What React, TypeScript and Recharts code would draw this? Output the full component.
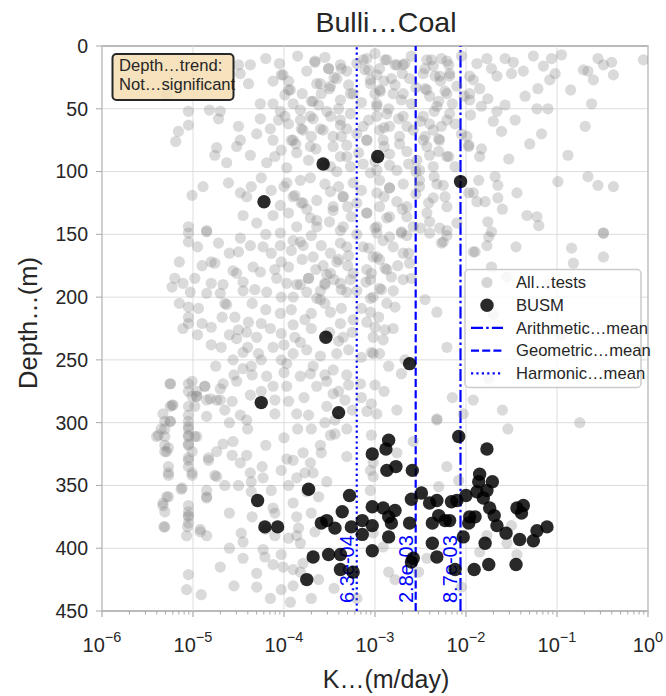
import React from "react";
import { ScatterChart, Scatter, XAxis, YAxis, CartesianGrid, ReferenceLine, ReferenceArea } from "recharts";

const FONT = '"Liberation Sans", Arial, Helvetica, sans-serif';
const INK = "#262626";
const EDGE = "#a9a9a9";
const GRID = "#dddddd";

// [log10 K (m/day), depth (m)] for every test
const allShallowLeft: [number, number][] = [
  [-5.29, 39], [-4.5, 15], [-4.37, 15], [-4.48, 22], [-4.39, 30], [-4.12, 28], [-4.03, 23], [-3.93, 35],
  [-3.99, 39], [-4.26, 46], [-4.12, 46], [-3.66, 13], [-3.51, 18], [-3.38, 15], [-3.42, 26], [-3.6, 30],
  [-3.68, 44], [-3.5, 34], [-3.29, 31], [-3.24, 38], [-3.09, 10], [-3.11, 19], [-3.05, 27], [-2.98, 46],
  [-5.05, 52], [-5.16, 68], [-5.19, 76], [-5.05, 63], [-4.82, 51], [-4.7, 52], [-4.72, 58], [-4.5, 64],
  [-4.48, 75], [-4.52, 80], [-4.74, 81], [-4.76, 87], [-4.63, 93], [-4.37, 87], [-4.26, 58], [-4.15, 66],
  [-4.04, 52], [-4.06, 59], [-4.12, 75], [-4.03, 83], [-3.92, 75], [-3.82, 51], [-3.81, 66], [-3.71, 56],
  [-3.7, 72], [-3.6, 66], [-3.49, 56], [-3.46, 72], [-3.38, 63], [-3.31, 79], [-3.27, 54], [-3.13, 64],
  [-3.09, 75], [-3.86, 85], [-3.73, 91], [-3.97, 97], [-4.19, 93], [-3.38, 88], [-3.27, 96], [-3.05, 101],
  [-4.89, 112], [-5.01, 119], [-4.61, 109], [-4.48, 117], [-4.36, 112], [-4.41, 120], [-4.14, 115], [-4.04, 127],
  [-4.12, 135], [-4.45, 135], [-4.3, 141], [-5.05, 144], [-4.85, 147], [-3.82, 107], [-3.71, 105], [-3.79, 125],
  [-3.64, 123], [-3.49, 116], [-3.46, 131], [-3.35, 120], [-3.24, 109], [-3.2, 125], [-3.09, 133], [-3.64, 139],
  [-3.86, 144], [-4.04, 149], [-3.38, 147], [-2.98, 117],
];

const allShallowRight: [number, number][] = [
  [-2.89, 11], [-2.76, 15], [-2.67, 14], [-2.98, 23], [-2.78, 31], [-2.94, 36], [-2.69, 38], [-2.62, 26],
  [-2.45, 18], [-2.38, 11], [-2.27, 10], [-2.19, 15], [-2.34, 24], [-2.18, 24], [-2.45, 34], [-2.23, 36],
  [-2.3, 44], [-2.1, 32], [-1.96, 24], [-1.88, 14], [-1.77, 10], [-1.72, 18], [-1.57, 10], [-1.48, 13],
  [-1.5, 22], [-1.66, 24], [-1.37, 20], [-1.26, 8], [-1.06, 10], [-1.15, 16], [-1.08, 27], [-1.02, 22],
  [-1.21, 34], [-0.95, 7], [-0.71, 19], [-0.66, 20], [-0.55, 10], [-0.49, 15], [-0.4, 13], [-0.38, 23],
  [-0.05, 11], [-0.6, 27], [-0.62, 46], [-1.76, 42], [-1.57, 47], [-1.96, 43], [-1.85, 34], [-1.83, 48],
  [-1.66, 52], [-1.46, 59], [-1.22, 50], [-1.1, 50], [-2.98, 56], [-2.84, 64], [-2.69, 56], [-2.73, 72],
  [-2.91, 75], [-2.58, 67], [-2.47, 75], [-2.4, 62], [-2.27, 64], [-2.18, 54], [-2.3, 74], [-2.19, 88],
  [-2.4, 87], [-2.54, 91], [-2.84, 95], [-2.98, 99], [-1.97, 79], [-1.85, 88], [-1.83, 82], [-1.61, 68],
  [-1.53, 90], [-1.3, 78], [-1.17, 70], [-0.88, 87], [-0.69, 64], [-1.86, 107], [-1.68, 104], [-1.65, 111],
  [-1.97, 117], [-1.88, 124], [-1.79, 124], [-1.65, 121], [-1.44, 117], [-1.33, 135], [-1.22, 136], [-1.2, 143],
  [-1.76, 140], [-1.72, 148], [-0.99, 108], [-0.66, 104], [-0.55, 111], [-0.38, 112], [-0.49, 149], [-2.95, 107],
  [-2.84, 113], [-2.69, 110], [-2.51, 112], [-2.32, 110], [-2.23, 120], [-2.41, 125], [-2.65, 128], [-2.84, 136],
  [-2.98, 144], [-2.58, 144], [-2.29, 145], [-2.1, 141], [-2.71, 149],
];

const allCore: [number, number][] = [
  [-3.66, 12], [-3.51, 18], [-3.37, 18], [-3.31, 20], [-3.64, 30], [-3.49, 32], [-3.59, 38], [-3.7, 44],
  [-3.9, 46], [-4.01, 23], [-3.95, 35], [-3.38, 43], [-3.27, 38], [-3.13, 11], [-3.07, 19], [-2.95, 18],
  [-2.87, 11], [-2.78, 15], [-2.69, 15], [-2.82, 26], [-2.7, 22], [-3.05, 30], [-2.95, 35], [-2.8, 38],
  [-2.71, 43], [-2.98, 48], [-2.43, 11], [-2.36, 16], [-2.21, 12], [-2.47, 22], [-2.29, 24], [-2.18, 22],
  [-2.43, 35], [-2.21, 38], [-2.32, 48], [-1.92, 27], [-1.96, 38], [-3.82, 59], [-3.68, 58], [-3.53, 52],
  [-3.38, 59], [-3.31, 66], [-3.37, 72], [-3.57, 67], [-3.79, 67], [-3.9, 75], [-3.99, 56], [-3.71, 80],
  [-3.46, 80], [-3.49, 96], [-3.31, 88], [-3.07, 59], [-2.95, 67], [-2.87, 54], [-2.74, 58], [-2.65, 64],
  [-2.73, 78], [-2.84, 86], [-2.63, 94], [-3.09, 75], [-3.13, 94], [-2.47, 56], [-2.36, 67], [-2.21, 59],
  [-2.29, 75], [-2.43, 80], [-2.21, 88], [-2.36, 96], [-1.99, 72], [-1.97, 80], [-2.51, 99], [-2.76, 99],
  [-3.97, 109], [-3.88, 119], [-3.81, 125], [-3.95, 133], [-3.71, 137], [-3.64, 144], [-3.82, 156], [-3.92, 163],
  [-3.68, 168], [-3.57, 175], [-3.4, 170], [-3.31, 160], [-3.49, 181], [-3.73, 185], [-3.86, 190], [-3.55, 190],
  [-3.37, 194], [-3.27, 186], [-3.64, 201], [-3.4, 112], [-3.35, 120], [-3.46, 128], [-3.26, 136], [-3.35, 144],
  [-3.09, 133], [-3.07, 161], [-3.02, 168], [-2.91, 155], [-2.87, 137], [-2.95, 128], [-2.84, 113], [-2.76, 124],
  [-2.65, 136], [-2.71, 148], [-2.51, 107], [-2.36, 121], [-2.25, 111], [-2.21, 128], [-2.43, 133], [-2.21, 147],
  [-2.25, 156], [-2.63, 165], [-2.87, 178], [-3.05, 186], [-2.93, 194], [-1.92, 117], [-1.9, 164],
];

const allCoreFill: [number, number][] = [
  [-4.2, 10], [-4.05, 14], [-3.85, 8], [-3.75, 20], [-3.55, 9], [-3.45, 25], [-3.2, 14], [-3.0, 6],
  [-2.9, 28], [-2.6, 8], [-2.55, 33], [-2.4, 40], [-2.28, 28], [-2.15, 46], [-2.05, 8], [-2.02, 40],
  [-1.95, 55], [-3.95, 28], [-3.8, 38], [-3.62, 47], [-3.4, 50], [-3.15, 45], [-3.0, 38], [-2.85, 50],
  [-2.6, 46], [-2.5, 60], [-2.35, 52], [-2.12, 62], [-2.05, 70], [-4.3, 70], [-4.1, 88], [-3.95, 62],
  [-3.87, 78], [-3.65, 82], [-3.55, 95], [-3.42, 100], [-3.2, 70], [-3.18, 85], [-3.0, 92], [-2.9, 80],
  [-2.9, 65], [-2.65, 84], [-2.55, 100], [-2.45, 72], [-2.35, 104], [-2.12, 96], [-2.3, 84], [-4.25, 105],
  [-4.0, 112], [-3.9, 120], [-3.75, 130], [-3.55, 110], [-3.5, 140], [-3.3, 128], [-3.15, 115], [-3.2, 150],
  [-3.0, 145], [-2.9, 120], [-2.8, 160], [-2.7, 130], [-2.55, 118], [-2.5, 145], [-2.4, 140], [-4.2, 150],
  [-4.1, 178], [-3.95, 176], [-3.9, 200], [-3.8, 170], [-3.65, 178], [-3.6, 195], [-3.45, 186], [-3.3, 175],
  [-3.2, 195], [-3.1, 188], [-2.95, 170], [-2.8, 195], [-2.75, 175], [-2.6, 185], [-4.35, 205], [-4.2, 210],
  [-4.15, 225], [-4.0, 238], [-3.88, 232], [-3.7, 225], [-3.55, 205], [-3.5, 228], [-3.4, 235], [-3.25, 228],
  [-3.15, 248], [-3.05, 212], [-2.95, 245], [-2.85, 255], [-4.35, 262], [-4.25, 275], [-4.1, 282], [-4.0, 260],
  [-3.9, 245], [-3.78, 280], [-3.68, 255], [-3.55, 262], [-3.4, 275], [-3.25, 290], [-3.15, 280], [-3.0, 270],
  [-2.9, 275], [-3.55, 300], [-3.7, 305], [-4.95, 160], [-4.6, 165], [-4.9, 175], [-4.65, 205], [-4.95, 230],
  [-4.6, 230], [-4.75, 255], [-4.55, 262], [-4.85, 295], [-4.65, 290], [-5.15, 205], [-4.45, 195], [-4.4, 240],
  [-4.25, 250], [-1.7, 60], [-1.35, 40], [-0.85, 35], [-1.6, 130], [-1.45, 160], [-1.1, 190], [-0.95, 230],
  [-1.3, 245], [-1.75, 265], [-2.15, 280], [-1.6, 290], [-0.75, 300],
];

const allMiddle: [number, number][] = [
  [-5.05, 149], [-5.05, 156], [-4.85, 148], [-4.72, 157], [-4.48, 153], [-4.37, 159], [-4.5, 164], [-4.23, 160],
  [-4.14, 165], [-4.03, 172], [-4.04, 159], [-3.9, 155], [-3.79, 159], [-3.7, 151], [-3.59, 159], [-3.49, 165],
  [-3.42, 172], [-3.29, 167], [-3.38, 157], [-3.13, 160], [-3.09, 178], [-5.15, 172], [-4.8, 172], [-4.76, 173],
  [-4.56, 179], [-4.34, 176], [-4.52, 181], [-4.26, 180], [-5.2, 185], [-5.23, 192], [-5.11, 189], [-4.98, 185],
  [-5.03, 196], [-4.8, 189], [-4.67, 190], [-4.85, 197], [-4.7, 197], [-4.45, 188], [-4.32, 194], [-4.19, 196],
  [-4.08, 185], [-4.03, 200], [-3.97, 189], [-3.82, 190], [-3.73, 185], [-3.75, 196], [-3.53, 182], [-3.55, 189],
  [-3.38, 189], [-3.31, 196], [-3.24, 181], [-3.05, 201], [-5.05, 208], [-5.05, 216], [-5.05, 221], [-5.11, 225],
  [-4.94, 209], [-4.9, 221], [-4.8, 224], [-4.68, 216], [-4.8, 238], [-4.69, 240], [-4.63, 206], [-4.54, 216],
  [-4.5, 226], [-4.52, 233], [-4.39, 220], [-4.41, 228], [-4.25, 221], [-4.3, 232], [-4.45, 244], [-4.28, 245],
  [-4.12, 240], [-4.03, 229], [-4.04, 213], [-3.92, 210], [-3.9, 222], [-4.03, 250], [-3.82, 236], [-3.77, 218],
  [-3.7, 213], [-3.75, 242], [-3.6, 202], [-3.49, 212], [-3.38, 221], [-3.35, 232], [-3.37, 209], [-3.29, 242],
  [-3.42, 245], [-3.24, 218], [-3.09, 220], [-3.0, 224], [-3.6, 247], [-3.15, 209], [-5.25, 269], [-5.05, 269],
  [-5.01, 279], [-5.05, 287], [-5.33, 293], [-5.23, 286], [-4.96, 279], [-4.87, 271], [-4.7, 273], [-4.67, 269],
  [-4.81, 281], [-4.7, 282], [-4.57, 283], [-4.52, 267], [-4.37, 278], [-4.48, 294], [-4.41, 298], [-4.56, 250],
  [-4.45, 257], [-4.36, 255], [-4.19, 263], [-4.12, 271], [-3.97, 271], [-3.95, 283], [-4.1, 293], [-3.86, 293],
  [-3.73, 294], [-3.97, 253], [-3.82, 263], [-3.71, 261], [-3.64, 271], [-3.53, 267], [-3.46, 258], [-3.31, 262],
  [-3.29, 270], [-3.16, 269], [-3.46, 277], [-3.33, 282], [-3.53, 287], [-3.44, 298], [-3.09, 291], [-3.02, 245],
  [-2.98, 149], [-2.84, 152], [-2.65, 151], [-2.4, 149], [-2.21, 151], [-2.27, 157], [-1.75, 152], [-1.77, 159],
  [-1.92, 164], [-0.84, 161], [-0.82, 173], [-0.49, 168], [-0.49, 149], [-2.98, 168], [-2.89, 177], [-2.69, 165],
  [-2.62, 173], [-3.04, 181], [-2.95, 193], [-2.82, 184], [-2.69, 186], [-3.02, 200], [-2.87, 205], [-2.78, 208],
  [-2.45, 202], [-2.32, 212], [-2.96, 216], [-2.89, 226], [-2.8, 225], [-3.02, 232], [-2.91, 234], [-3.04, 244],
  [-2.21, 240], [-1.7, 214], [-1.72, 176], [-1.55, 184], [-1.77, 188], [-1.92, 282], [-2.03, 293], [-2.32, 297],
  [-2.76, 290], [-3.04, 285], [-2.98, 293], [-2.71, 261], [-2.67, 250], [-5.25, 269], [-5.01, 267], [-5.05, 275],
  [-4.96, 275], [-4.96, 279], [-4.87, 271], [-4.85, 282], [-4.74, 282], [-5.22, 286], [-5.25, 287], [-4.98, 287],
  [-5.05, 294], [-5.31, 299], [-5.25, 299], [-5.05, 299],
];

const allDeep: [number, number][] = [
  [-5.38, 310], [-5.31, 305], [-5.25, 299], [-5.05, 303], [-5.05, 310], [-5.05, 318], [-4.98, 311], [-5.31, 318],
  [-5.29, 323], [-5.27, 335], [-5.27, 340], [-5.05, 335], [-5.05, 330], [-5.01, 340], [-5.12, 352], [-5.29, 359],
  [-5.33, 364], [-5.31, 371], [-5.32, 383], [-5.05, 366], [-5.05, 374], [-5.06, 383], [-5.07, 390], [-4.92, 387],
  [-4.85, 390], [-4.85, 354], [-4.85, 360], [-5.05, 421], [-5.07, 433], [-4.91, 437], [-4.83, 330], [-4.76, 342],
  [-4.67, 317], [-4.56, 315], [-4.57, 326], [-4.48, 332], [-4.74, 323], [-4.41, 326], [-4.5, 350], [-4.37, 340],
  [-4.36, 347], [-4.36, 355], [-4.47, 388], [-4.45, 395], [-4.45, 408], [-4.23, 344], [-4.24, 335], [-4.14, 354],
  [-4.12, 368], [-4.23, 401], [-4.21, 407], [-4.12, 413], [-4.3, 431], [-4.03, 433], [-3.93, 443], [-4.03, 338],
  [-3.9, 330], [-3.97, 329], [-3.86, 344], [-3.79, 324], [-3.77, 340], [-3.68, 340], [-3.71, 332], [-3.6, 318],
  [-3.59, 324], [-3.49, 310], [-3.44, 309], [-3.31, 327], [-3.31, 305], [-3.53, 347], [-3.62, 359], [-3.9, 364],
  [-3.86, 375], [-3.84, 384], [-3.95, 392], [-3.86, 390], [-3.82, 396], [-4.1, 390], [-4.03, 405], [-4.01, 415],
  [-3.9, 417], [-3.79, 412], [-3.82, 419], [-3.62, 425], [-3.05, 354], [-3.05, 338], [-3.04, 310], [-3.66, 387],
  [-1.54, 305], [-2.32, 298], [-2.58, 315], [-2.76, 324], [-3.02, 332], [-3.02, 343], [-2.21, 335], [-2.3, 351],
  [-2.08, 346], [-1.5, 382], [-1.44, 405], [-1.55, 396], [-1.85, 403], [-2.43, 408], [-2.85, 419], [-2.78, 425],
  [-2.52, 419], [-3.02, 388], [-2.91, 399], [-1.77, 390], [-2.05, 431], [-5.35, 305], [-5.05, 305], [-5.4, 311],
  [-5.31, 311], [-5.05, 311], [-4.96, 311], [-5.27, 320], [-5.31, 323], [-5.05, 317], [-5.01, 323], [-5.05, 328],
  [-4.83, 328], [-5.27, 342], [-5.01, 342], [-4.74, 343], [-5.13, 353], [-4.85, 359], [-5.27, 359], [-5.33, 366],
  [-5.05, 371], [-5.05, 375], [-5.05, 380], [-5.31, 383], [-4.92, 385], [-4.6, 300], [-4.4, 305], [-4.2, 318],
  [-4.0, 312], [-3.85, 305], [-4.65, 350], [-4.6, 372], [-4.35, 375], [-4.2, 385], [-4.1, 372], [-3.95, 350],
  [-3.75, 355], [-3.7, 372], [-4.6, 400], [-4.3, 420], [-4.15, 440], [-3.9, 430], [-3.7, 440], [-3.45, 432],
  [-3.2, 440], [-4.7, 415], [-4.55, 430],
];

// BUSM tests
const busm: [number, number][] = [
  [-3.57, 94], [-2.97, 88], [-2.06, 108], [-4.22, 124], [-3.54, 232], [-2.62, 253], [-4.25, 284], [-3.4, 292],
  [-2.08, 311], [-1.77, 321], [-2.85, 314], [-2.88, 321], [-3.03, 325], [-3.73, 353], [-3.28, 358], [-4.29, 362],
  [-3.03, 367], [-3.36, 371], [-3.53, 378], [-3.59, 380], [-3.44, 384], [-3.26, 383], [-3.14, 378], [-3.14, 389],
  [-3.03, 382], [-4.21, 383], [-4.07, 383], [-3.68, 407], [-3.51, 405], [-3.38, 405], [-3.03, 402], [-3.38, 417],
  [-3.24, 419], [-3.75, 425], [-2.87, 338], [-2.77, 335], [-2.59, 338], [-1.85, 341], [-1.86, 347], [-1.71, 347],
  [-1.77, 354], [-2.49, 356], [-2.6, 361], [-2.32, 362], [-2.4, 364], [-2.16, 363], [-2.1, 362], [-2.0, 358],
  [-1.88, 355], [-1.81, 360], [-1.74, 368], [-1.69, 374], [-1.66, 382], [-1.56, 388], [-1.44, 368], [-1.37, 366],
  [-1.39, 372], [-1.22, 386], [-1.11, 383], [-1.26, 394], [-1.41, 393], [-1.79, 396], [-1.75, 413], [-1.45, 413],
  [-1.91, 417], [-2.03, 391], [-1.96, 375], [-1.9, 375], [-1.97, 380], [-2.18, 378], [-2.23, 378], [-2.3, 374],
  [-2.37, 380], [-2.37, 396], [-2.32, 407], [-2.62, 380], [-2.85, 375], [-2.82, 380], [-2.91, 368], [-2.78, 370],
  [-2.85, 391], [-2.6, 411], [-2.58, 408], [-2.12, 417],
];

// mean K lines: arithmetic, geometric, harmonic
const meanNames = ["Arithmetic…mean", "Geometric…mean", "Harmonic…mean"];
const meanValues = [8.7e-3, 2.8e-3, 6.3e-4];
const meanLabels = ["8.7e-03", "2.8e-03", "6.3e-04"];
const meanDash = ["12 3.2 2.5 3.2", "8 3.2", "2.2 3.2"];

const decadeTicks = [1e-6, 1e-5, 1e-4, 1e-3, 1e-2, 1e-1, 1];
const depthTicks = [0, 50, 100, 150, 200, 250, 300, 350, 400, 450];

const minorTicks: number[] = [];
for (let e = -6; e < 0; e++) {
  for (let m = 2; m <= 9; m++) minorTicks.push(m * Math.pow(10, e));
}
const xTicks = [...decadeTicks, ...minorTicks].sort((a, b) => a - b);

const toPoints = (rows: [number, number][]) => rows.map(([e, d]) => ({ k: Math.pow(10, e), depth: d }));
const allPoints = toPoints([
  ...allShallowLeft,
  ...allShallowRight,
  ...allCore,
  ...allCoreFill,
  ...allMiddle,
  ...allDeep,
]);
const busmPoints = toPoints(busm);

const GrayDot = (p: any) => <circle cx={p.cx} cy={p.cy} r={5.6} fill="#808080" fillOpacity={0.29} />;
const BlackDot = (p: any) => <circle cx={p.cx} cy={p.cy} r={6.7} fill="#000" fillOpacity={0.84} />;

const LogTick = (props: any) => {
  const { x, y, payload } = props;
  const lg = Math.log10(payload.value);
  const e = Math.round(lg);
  if (Math.abs(lg - e) > 1e-6) {
    return <line x1={x} x2={x} y1={y} y2={y + 3.5} stroke={EDGE} strokeWidth={1} />;
  }
  return (
    <g>
      <line x1={x} x2={x} y1={y} y2={y + 6} stroke={EDGE} strokeWidth={1.2} />
      <text x={x} y={y + 41} textAnchor="middle" fill={INK} fontSize={20} fontFamily={FONT}>
        <tspan>10</tspan>
        <tspan dy={-10} fontSize={14.5}>{e === 0 ? "0" : "\u2212" + Math.abs(e)}</tspan>
      </text>
    </g>
  );
};

const MeanLabel = (props: any) => {
  const { viewBox, text } = props;
  if (!viewBox) return null;
  const bx = viewBox.x - 3;
  const by = viewBox.y + viewBox.height - 8;
  return (
    <text x={bx} y={by} transform={`rotate(-90 ${bx} ${by})`} fill="#0000ff" fontSize={20} fontFamily={FONT}>
      {text}
    </text>
  );
};

const legendRows = ["All…tests", "BUSM", ...meanNames];

export default function App() {
  return (
    <div style={{ position: "absolute", left: 0, top: 0, width: 666, height: 696, background: "#fff" }}>
      <ScatterChart width={666} height={696} margin={{ top: 46, right: 18, bottom: 0, left: 0 }}>
        <CartesianGrid stroke={GRID} vertical={false} />
        {decadeTicks.map((v) => (
          <ReferenceLine key={"g" + v} x={v} stroke={GRID} strokeWidth={1} />
        ))}
        <XAxis
          dataKey="k"
          type="number"
          scale="log"
          domain={[1e-6, 1]}
          ticks={xTicks}
          interval={0}
          allowDataOverflow
          height={85}
          axisLine={false}
          tickLine={false}
          tickSize={0}
          tickMargin={0}
          tick={<LogTick />}
        />
        <YAxis
          dataKey="depth"
          type="number"
          domain={[0, 450]}
          reversed
          ticks={depthTicks}
          interval={0}
          width={102}
          axisLine={false}
          tickSize={6}
          tickMargin={8}
          tickLine={{ stroke: EDGE }}
          tick={{ fill: INK, fontSize: 19.5, fontFamily: FONT }}
        />
        <ReferenceArea x1={1e-6} x2={1} y1={0} y2={450} fill="none" stroke={EDGE} strokeWidth={1.4} />
        <Scatter data={allPoints} shape={GrayDot} isAnimationActive={false} />
        <Scatter data={busmPoints} shape={BlackDot} isAnimationActive={false} />
        {meanValues.map((v, i) => (
          <ReferenceLine
            key={meanLabels[i]}
            x={v}
            stroke="#0000ff"
            strokeWidth={2.2}
            strokeDasharray={meanDash[i]}
            label={<MeanLabel text={meanLabels[i]} />}
          />
        ))}
      </ScatterChart>

      <svg width={666} height={696} style={{ position: "absolute", left: 0, top: 0, pointerEvents: "none" }}>
        <g fontFamily={FONT} fill={INK}>
          <text x={386} y={32} textAnchor="middle" fontSize={28.5}>Bulli…Coal</text>
          <text x={386} y={688} textAnchor="middle" fontSize={25}>K…(m/day)</text>
          <text x={37} y={323} textAnchor="middle" fontSize={25.5} transform="rotate(-90 37 323)">Depth…(m)</text>

          <rect x={112.5} y={54} width={121} height={46} rx={4} fill="#f5deb3" fillOpacity={0.85} stroke={INK} strokeWidth={2} />
          <text x={119} y={71} fontSize={16.6}>Depth…trend:</text>
          <text x={119} y={90} fontSize={16.6}>Not…significant</text>

          <rect x={465} y={269.5} width={176} height={118} rx={4} fill="#fff" fillOpacity={0.8} stroke="#cccccc" strokeWidth={1.5} />
          {legendRows.map((name, i) => {
            const cy = 282.5 + i * 22.7;
            let marker;
            if (i === 0) marker = <circle cx={487} cy={cy} r={5.6} fill="#808080" fillOpacity={0.29} />;
            else if (i === 1) marker = <circle cx={487} cy={cy} r={6.7} fill="#000" fillOpacity={0.84} />;
            else
              marker = (
                <line x1={471} x2={503} y1={cy} y2={cy} stroke="#0000ff" strokeWidth={2.2} strokeDasharray={meanDash[i - 2]} />
              );
            return (
              <g key={name}>
                {marker}
                <text x={516} y={cy} dy="0.35em" fontSize={16.6}>{name}</text>
              </g>
            );
          })}
        </g>
      </svg>
    </div>
  );
}
